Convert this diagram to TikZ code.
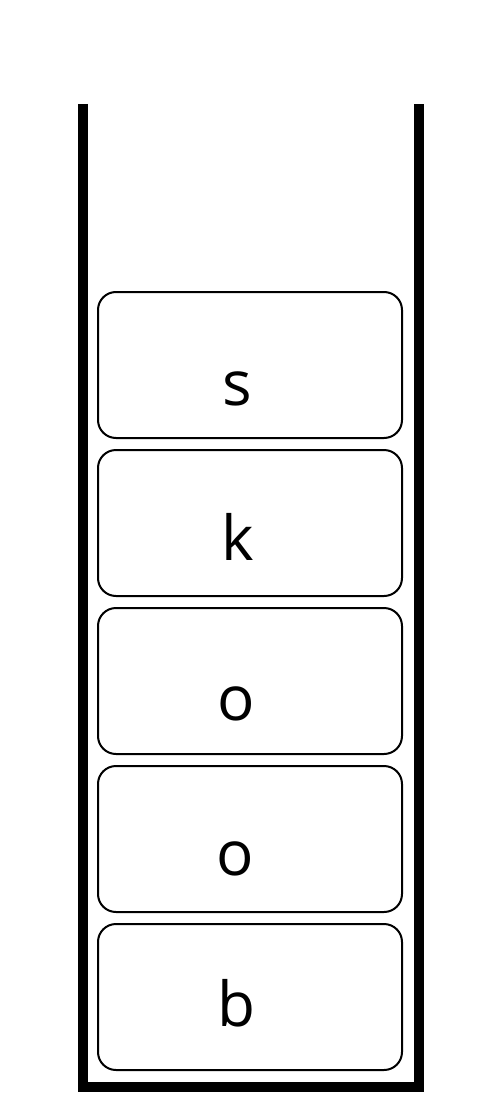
\documentclass[tikz,border=0pt]{standalone}
\usepackage{fontspec}
\setmainfont{Open Sans}
\usepackage{tikz}

\begin{document}
\begin{tikzpicture}[x=1pt,y=-1pt,
    box_node/.style={rectangle,draw,rounded corners=18pt,line width=2pt,minimum width=304pt,minimum height=146pt,inner sep=0pt},
    letter_node/.style={anchor=base,inner sep=0pt,font=\fontsize{62}{70}\selectfont}]

    \useasboundingbox (0,0) rectangle (503,1105);

    \coordinate (top_left) at (83,104);
    \coordinate (bottom_left) at (83,1087);
    \coordinate (bottom_right) at (419,1087);
    \coordinate (top_right) at (419,104);

    \node[box_node] (0) at (250,365) {};
    \node[box_node] (1) at (250,523) {};
    \node[box_node] (2) at (250,681) {};
    \node[box_node] (3) at (250,839) {};
    \node[box_node] (4) at (250,997) {};

    \node[letter_node] (s) at (237,405) {s};
    \node[letter_node] (k) at (238,560) {k};
    \node[letter_node] (o1) at (236,720) {o};
    \node[letter_node] (o2) at (235,875) {o};
    \node[letter_node] (b) at (236,1026) {b};

    \path[draw, line width=10pt, miter limit=10]
    (top_left) -- (bottom_left) -- (bottom_right) -- (top_right)
    ;
    \end{tikzpicture}
\end{document}
